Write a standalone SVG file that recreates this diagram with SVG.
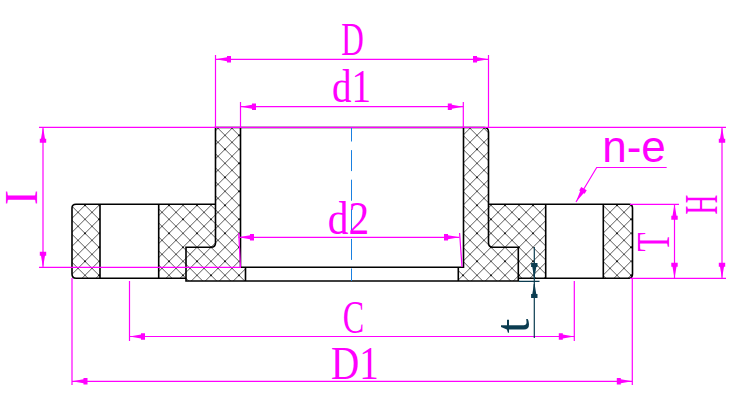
<svg xmlns="http://www.w3.org/2000/svg" width="738" height="411" viewBox="0 0 738 411">
<style>
.o{fill:none;stroke:#000;stroke-width:1.6}
.h{fill:url(#hatch);stroke:none}
.m{fill:none;stroke:#f0f;stroke-width:1.2}
.d{marker-start:url(#arrow);marker-end:url(#arrow)}
.k{fill:none;stroke:#0b3c50;stroke-width:1.2}
.t{font-family:"Liberation Serif",serif;font-size:46px;fill:#f0f;text-anchor:middle}
</style>
<defs>
<pattern id="hatch" patternUnits="userSpaceOnUse" x="78" y="226.3" width="28" height="28">
<path d="M0,0L28,28M14,0L28,14M0,14L14,28M28,0L0,28M14,0L0,14M28,14L14,28" stroke="#000" stroke-width=".65" fill="none"/>
<circle cx="7" cy="7" r=".9" fill="#000"/>
<circle cx="21" cy="21" r=".9" fill="#000"/>
</pattern>
<marker id="arrow" markerUnits="userSpaceOnUse" markerWidth="18" markerHeight="10" refX="15.5" refY="5" orient="auto-start-reverse" overflow="visible">
<path d="M0,1.8H4V3L14,4.7V5.3L4,7V8.2H0Z" fill="#f0f"/>
</marker>
<marker id="arrowk" markerUnits="userSpaceOnUse" markerWidth="18" markerHeight="10" refX="14" refY="5" orient="auto" overflow="visible">
<path d="M0,1.8H4V3L14,4.7V5.3L4,7V8.2H0Z" fill="#0b3c50"/>
</marker>
</defs>
<rect width="738" height="411" fill="#fff"/>
<g id="section">
<path class="h" d="M76,204.3H100V278.3H76Q72,278 72,274V208Q72,204.5 76,204.3Z"/>
<path class="h" d="M603.3,204.3H629Q632.5,204.5 632.5,208V274Q632.5,278 629,278.3H603.3Z"/>
<path class="h" d="M158.7,204.3H215.5V127.5H240.5V267.3H245.5V281H186V278.3H158.7Z"/>
<path class="h" d="M463.5,127.5H484Q488.5,127.5 488.5,132V204.3H545.7V278.3H518.3V281H458.3V267.3H463.5Z"/>
<path class="o" d="M76,278.3Q72,278 72,274V208Q72,204.5 76,204.3H215.5M100,204.3V278.3M158.7,204.3V278.3M76,278.3H186"/>
<path class="o" d="M215.5,127.5H484Q488.5,127.5 488.5,132V243Q488.5,247 493,247.3H518.3V281H186V247.3H211Q215.5,247 215.5,243Z"/>
<path class="o" d="M240.5,127.5V267.3H463.5V127.5M245.5,267.3V281M458.3,267.3V281"/>
<path class="o" d="M489,204.3H629Q632.5,204.5 632.5,208V274Q632.5,278 629,278.3H518.3M545.7,204.3V278.3M603.3,204.3V278.3"/>
</g>
<g id="centerline">
<path d="M351.5,127.5V281" fill="none" stroke="#1a80e0" stroke-width="1" stroke-dasharray="21 8.6" stroke-dashoffset="7"/>
</g>
<g id="connectors">
<path class="m" d="M39,127.3H726M39,267.3H241M630,204.3H679M630,278.3H726"/>
<path class="m" d="M215.5,55V127.5M488.5,55V127.5M240.5,102V127.5M463.3,102V127.5"/>
<path class="m" d="M238.7,233L240.5,267M459.6,233L462,267"/>
<path class="m" d="M72,278V385M632.3,278V385M129.5,281V341M574.3,281V341"/>
<path class="m d" d="M215.5,59.3H488.5"/>
<path class="m d" d="M240.5,106.7H463.3"/>
<path class="m d" d="M238.5,237.3H459.5"/>
<path class="m d" d="M129.5,336.5H574.3"/>
<path class="m d" d="M72,381.3H632.3"/>
<path class="m d" d="M43,127.3V267.3"/>
<path class="m d" d="M722,127.3V278.3"/>
<path class="m d" d="M674.5,204.3V278.3"/>
<path class="m" d="M666.7,167.5H596.7L576,202" marker-end="url(#arrow)"/>
<path class="k" d="M534.3,247V338M519,281.3H539.5"/>
<path class="k" d="M534.3,263L534.3,277" marker-end="url(#arrowk)"/>
<path class="k" d="M534.3,298L534.3,284" marker-end="url(#arrowk)"/>
</g>
<g id="labels">
<text class="t" transform="translate(352.5,55) scale(.68,1)">D</text>
<text class="t" transform="translate(351.5,102) scale(.85,1)">d1</text>
<text class="t" transform="translate(348.5,234) scale(.9,1)">d2</text>
<text class="t" transform="translate(353.5,333) scale(.7,1)">C</text>
<text class="t" transform="translate(355,379) scale(.85,1)">D1</text>
<text class="t" transform="translate(37,197.5) rotate(-90)">I</text>
<text class="t" transform="translate(717,204.5) rotate(-90) scale(.6,1)">H</text>
<text class="t" transform="translate(669,242) rotate(-90) scale(.68,1)">T</text>
<text class="t" transform="translate(529,326) rotate(-90) scale(1.1,1)" style="fill:#0b3c50;font-size:48px">t</text>
<text transform="translate(634,161.5)" style="font-family:'Liberation Sans',sans-serif;font-size:44px;fill:#f0f;text-anchor:middle">n-e</text>
</g>
</svg>
